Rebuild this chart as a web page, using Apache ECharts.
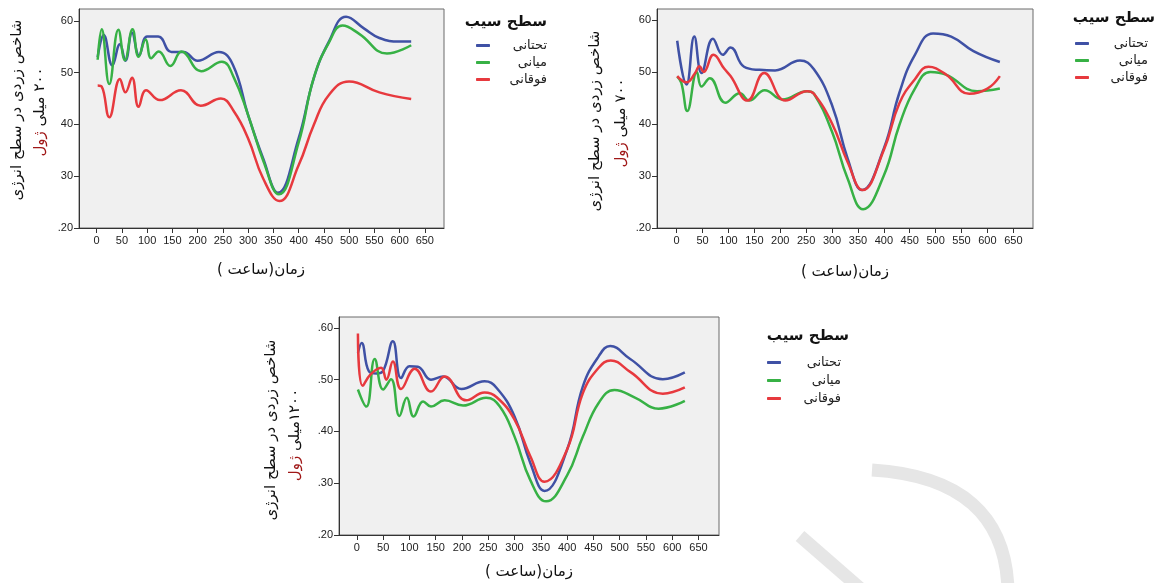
<!DOCTYPE html>
<html>
<head>
<meta charset="utf-8">
<script src="https://cdn.jsdelivr.net/npm/echarts@6/dist/echarts.min.js"></script>
<style>
html, body { margin: 0; padding: 0; background: #fff; }
#main { width: 1162px; height: 583px; }
</style>
</head>
<body>
<div id="main"></div>
<script>
// series names (legend) and ticks
var names = ['تحتانی', 'میانی', 'فوقانی'];
var xTicks = [0, 50, 100, 150, 200, 250, 300, 350, 400, 450, 500, 550, 600, 650];
var yTicksA = [20, 30, 40, 50, 60];
var yTicksB = [0.2, 0.3, 0.4, 0.5, 0.6];

// chart 1 : 200 mJ  [hour, index]
var c1Low = [[2,53],[14,57.3],[31,51.4],[46,55.5],[57,52.3],[70,57.7],[84,53.3],[100,57],[122,57],[148,54],[172,54],[200,52.3],[242,54],[270,51.5],[300,41.8],[330,33.4],[359,26.8],[400,37.3],[430,48.9],[460,56],[494,60.8],[530,58.5],[560,56.7],[600,56],[623,56]];
var c1Mid = [[2,52.5],[10,58.4],[25,47.8],[43,58.3],[56,52.4],[71,58.4],[83,53.1],[97,56.4],[108,52.8],[123,54.1],[146,51.3],[168,54.1],[207,50.3],[248,52.1],[272,49],[300,41.8],[330,33],[361,26.5],[400,36.5],[430,49],[460,55.8],[487,59.1],[520,57.5],[575,53.7],[623,55.3]];
var c1Up = [[2,47.5],[10,47.3],[25,41.4],[46,48.8],[57,46.2],[70,49],[83,43.4],[98,46.6],[125,44.7],[167,46.6],[206,43.6],[246,45],[272,42.5],[300,37.3],[330,29.5],[362,25.2],[400,32.1],[430,39.9],[460,45.7],[500,48.3],[560,46.2],[623,44.9]];

// chart 2 : 700 mJ
var c2Low = [[1,56],[19,47.6],[34,56.8],[48,49.8],[70,56.4],[89,53.3],[104,54.7],[130,51],[160,50.4],[190,50.3],[238,52.2],[265,50.5],[300,43.6],[330,33.4],[358,27.3],[400,35.3],[430,46],[460,53.3],[495,57.4],[530,56.8],[573,54],[624,51.9]];
var c2Mid = [[1,49.1],[9,47.9],[20.5,42.5],[39,50],[48,47.2],[64,48.8],[94,44.1],[122,45.9],[140,44.5],[170,46.5],[204,44.7],[252,46.3],[265,45.8],[300,38.5],[330,29.5],[360,23.6],[400,30.1],[430,39.8],[460,46.8],[490,50],[520,49.5],[580,46.3],[624,46.8]];
var c2Up = [[1,49.2],[19,48],[35,49.7],[44,51.1],[52,50],[71,53.3],[92,50.6],[104,49.2],[137,44.5],[169,49.8],[210,44.5],[252,46.3],[265,45.8],[300,40.1],[330,32.7],[359,27.3],[400,35],[430,44],[460,48.6],[486,51],[520,49.5],[565,45.8],[600,46.8],[624,49.2]];

// chart 3 : 1200 mJ
var c3Low = [[2,0.552],[9,0.571],[23,0.516],[37,0.512],[50,0.517],[68.5,0.574],[84,0.503],[100,0.526],[116,0.525],[141,0.50],[164,0.506],[199,0.482],[243,0.497],[266,0.484],[300,0.429],[330,0.339],[357,0.285],[400,0.365],[430,0.487],[460,0.545],[482,0.565],[520,0.54],[582,0.501],[624,0.514]];
var c3Mid = [[2,0.481],[18,0.448],[34,0.54],[50,0.481],[65,0.501],[81,0.43],[95,0.465],[108,0.429],[126,0.458],[141,0.448],[167,0.46],[202,0.45],[246,0.465],[272,0.448],[300,0.39],[330,0.306],[360,0.265],[400,0.315],[430,0.39],[460,0.455],[490,0.48],[530,0.465],[574,0.444],[624,0.459]];
var c3Up = [[2,0.589],[11,0.488],[26,0.51],[46,0.523],[56,0.50],[68.5,0.535],[84,0.482],[110,0.521],[141,0.477],[167,0.506],[208,0.46],[243,0.475],[266,0.466],[300,0.423],[330,0.352],[357,0.303],[400,0.365],[430,0.474],[460,0.523],[483,0.537],[520,0.515],[582,0.473],[624,0.485]];

var colors = ['#3f51a5', '#37b145', '#e7393e'];
var fa = 'DejaVu Sans';
var num = 'Liberation Sans, Arial, sans-serif';

var chart = echarts.init(document.getElementById('main'));

var panels = [
    { grid: { left: 79, top: 9, width: 365, height: 219 }, xMin: -35, xMax: 688, yMin: 20, yMax: 62.3, ticks: yTicksA,
      fmt: function (v) { return v === 20 ? '.20' : String(v); }, data: [c1Low, c1Mid, c1Up],
      legend: { left: 476, top: 39, w: 52, gap: 4 }, lgTitle: [547, 22], xTitle: [261, 270],
      yTitle: [[17, 110], [40, 112]], energy: '\u202B۲۰۰ میلی\u202C' },
    { grid: { left: 657, top: 9, width: 376, height: 219 }, xMin: -38, xMax: 688, yMin: 20, yMax: 62.1, ticks: yTicksA,
      fmt: function (v) { return v === 20 ? '.20' : String(v); }, data: [c2Low, c2Mid, c2Up],
      legend: { left: 1075, top: 37, w: 54, gap: 4 }, lgTitle: [1155, 18], xTitle: [845, 272],
      yTitle: [[595, 121], [621, 123]], energy: '\u202B۷۰۰ میلی\u202C' },
    { grid: { left: 339, top: 317, width: 380, height: 218 }, xMin: -34, xMax: 689, yMin: 0.2, yMax: 0.621, ticks: yTicksB,
      fmt: function (v) { return '.' + Math.round(v * 100); }, data: [c3Low, c3Mid, c3Up],
      legend: { left: 767, top: 356, w: 55, gap: 5 }, lgTitle: [849, 336], xTitle: [529, 572],
      yTitle: [[271, 430], [295, 435]], energy: '\u202B۱۲۰۰میلی\u202C' }
];

var grids = [], xAxes = [], yAxes = [], series = [], legends = [], graphics = [];

panels.forEach(function (p, i) {
    grids.push(Object.assign({ show: true, backgroundColor: '#f0f0f0', borderColor: '#6b6b6b', borderWidth: 1 }, p.grid));
    xAxes.push({
        type: 'value', gridIndex: i, min: p.xMin, max: p.xMax,
        axisLine: { show: true, onZero: false, lineStyle: { color: '#333', width: 1 } },
        axisTick: { show: true, customValues: xTicks, length: 5, lineStyle: { color: '#333' } },
        axisLabel: { customValues: xTicks, fontSize: 11, color: '#222', margin: 7, fontFamily: num },
        splitLine: { show: false }
    });
    yAxes.push({
        type: 'value', gridIndex: i, min: p.yMin, max: p.yMax,
        axisLine: { show: true, onZero: false, lineStyle: { color: '#333', width: 1 } },
        axisTick: { show: true, customValues: p.ticks, length: 5, lineStyle: { color: '#333' } },
        axisLabel: { customValues: p.ticks, formatter: p.fmt, fontSize: 11, color: '#222', margin: 6, fontFamily: num },
        splitLine: { show: false }
    });
    p.data.forEach(function (d, k) {
        series.push({
            type: 'line', name: names[k], xAxisIndex: i, yAxisIndex: i, data: d,
            smooth: 0.45, symbol: 'none', color: colors[k],
            lineStyle: { width: 2.5, color: colors[k] }
        });
    });
    legends.push({
        orient: 'vertical', left: p.legend.left, top: p.legend.top, padding: 0, itemGap: p.legend.gap,
        itemWidth: 14, itemHeight: 3, icon: 'roundRect', selectedMode: false, data: names,
        formatter: '{t|{name}}',
        textStyle: { rich: { t: { width: p.legend.w, align: 'right', fontSize: 13, fontFamily: fa, color: '#222' } } }
    });
    // legend title
    graphics.push({ type: 'text', x: p.lgTitle[0], y: p.lgTitle[1],
        style: { text: 'سطح سیب', font: 'bold 15px ' + fa, fill: '#111', align: 'right', textAlign: 'right', verticalAlign: 'middle', textVerticalAlign: 'middle' } });
    // x axis title
    graphics.push({ type: 'text', x: p.xTitle[0], y: p.xTitle[1],
        style: { text: '\u202Bزمان(ساعت )\u202C', font: '15px ' + fa, fill: '#111', align: 'center', textAlign: 'center', verticalAlign: 'middle', textVerticalAlign: 'middle' } });
    // y axis title, two lines
    graphics.push({ type: 'text', x: p.yTitle[0][0], y: p.yTitle[0][1], rotation: Math.PI / 2,
        style: { text: '\u202Bشاخص زردی در سطح انرژی\u202C', font: '15px ' + fa, fill: '#111', align: 'center', textAlign: 'center', verticalAlign: 'middle', textVerticalAlign: 'middle' } });
    graphics.push({ type: 'text', x: p.yTitle[1][0], y: p.yTitle[1][1], rotation: Math.PI / 2,
        style: { text: '{r|ژول} {a|' + p.energy + '}', font: '15px ' + fa, fill: '#111', align: 'center', textAlign: 'center', verticalAlign: 'middle', textVerticalAlign: 'middle',
            rich: { r: { fill: '#a01818', font: '15px ' + fa }, a: { fill: '#111', font: '15px ' + fa } } } });
});

// faint watermark strokes, lower right
graphics.push({ type: 'line', z: -1, shape: { x1: 800, y1: 536, x2: 862, y2: 590 }, style: { stroke: '#e6e6e6', lineWidth: 13 } });
graphics.push({ type: 'bezierCurve', z: -1, shape: { x1: 872, y1: 470, cpx1: 1005, cpy1: 478, x2: 1008, y2: 590 }, style: { stroke: '#e6e6e6', lineWidth: 13, fill: null } });

chart.setOption({
    animation: false,
    backgroundColor: '#fff',
    grid: grids,
    xAxis: xAxes,
    yAxis: yAxes,
    legend: legends,
    series: series,
    graphic: graphics
});
</script>
</body>
</html>
